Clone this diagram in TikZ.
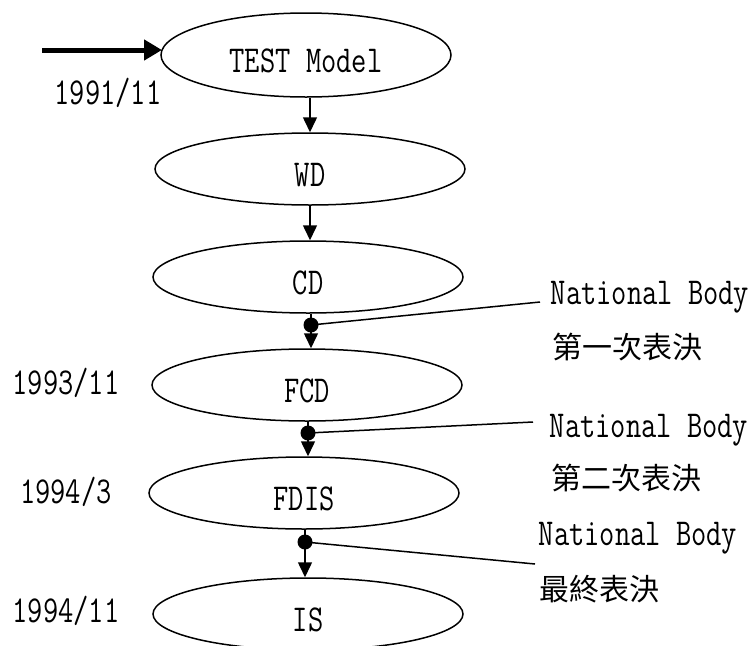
\documentclass[tikz,border=0pt]{standalone}
\usepackage{fontspec}
\setmainfont{Latin Modern Mono}[FakeStretch=0.78]
\newfontfamily\cjk{Noto Sans CJK TC}
\usetikzlibrary{arrows.meta,shapes.geometric}
\begin{document}
\begin{tikzpicture}[x=1pt,y=-1pt,
  stage/.style={ellipse, draw, line width=1.5pt, minimum width=310pt, minimum height=72pt, inner sep=0pt, text height=35pt, text depth=0pt, font=\fontsize{38}{38}\selectfont},
  lab/.style={inner sep=0pt, font=\fontsize{38}{38}\selectfont},
  cjklab/.style={inner sep=0pt, font=\cjk\fontsize{30}{30}\selectfont},
  arr/.style={line width=1.5pt, -{Triangle[length=15pt,width=14pt]}},
  bigarr/.style={line width=5pt, -{Triangle[length=18pt,width=20pt]}},
  lead/.style={line width=1.5pt},
  dot/.style={circle, fill, inner sep=0pt, minimum size=15pt}]
\useasboundingbox (0,0) rectangle (756,646);

% stages
\node[stage, minimum width=290pt, minimum height=84pt] (test) at (306,55) {TEST Model};
\node[stage] (wd)   at (310,169) {WD};
\node[stage] (cd)   at (308,277) {CD};
\node[stage] (fcd)  at (307,385) {FCD};
\node[stage] (fdis) at (304,493) {FDIS};
\node[stage] (is)   at (308,614) {IS};

% dates
\node[lab] (t1) at (108,93)  {1991/11};
\node[lab] (t2) at (66,383)  {1993/11};
\node[lab] (t3) at (66,492)  {1994/3};
\node[lab] (t4) at (66,611)  {1994/11};

% right labels
\node[lab] (nb1) at (650,297) {National Body};
\node[cjklab] (v1) at (627,347) {第一次表決};
\node[lab] (nb2) at (649,430) {National Body};
\node[cjklab] (v2) at (626,478) {第二次表決};
\node[lab] (nb3) at (638,538) {National Body};
\node[cjklab] (v3) at (599,589) {最終表決};

% entry arrow
\coordinate (a0) at (42,50);
\draw[bigarr] (a0) -- (162,50);

% vertical arrows
\draw[arr] (wd.north |- test.south) -- (wd.north);
\draw[arr] (wd.south) -- (wd.south |- cd.north);

\coordinate (e1) at (540,302);
\coordinate (e2) at (533,422);
\coordinate (e3) at (535,564);

\coordinate (p1) at (311,325);
\coordinate (p2) at (308,433);
\coordinate (p3) at (305,542);

\draw[arr] (p1 |- cd.south) -- (p1 |- fcd.north);
\draw[arr] (p2 |- fcd.south) -- (p2 |- fdis.north);
\draw[arr] (p3 |- fdis.south) -- (p3 |- is.north);

\node[dot] (d1) at (p1) {};
\node[dot] (d2) at (p2) {};
\node[dot] (d3) at (p3) {};

\draw[lead] (d1.center) -- (e1);
\draw[lead] (d2.center) -- (e2);
\draw[lead] (d3.center) -- (e3);
\end{tikzpicture}
\end{document}
